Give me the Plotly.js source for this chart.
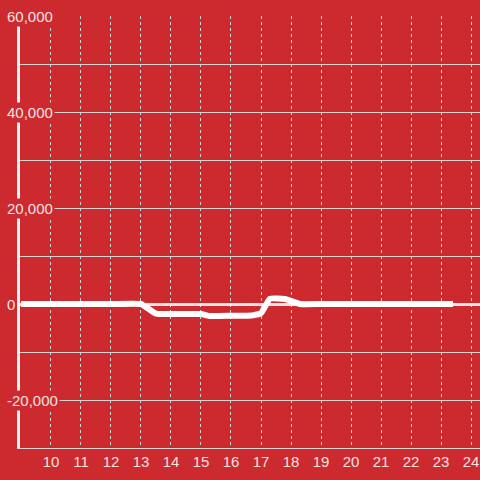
<!DOCTYPE html>
<html>
<head>
<meta charset="utf-8">
<script src="https://cdn.plot.ly/plotly-3.0.1.min.js"></script>
<style>html,body{margin:0;padding:0;background:#CC2A2E;}#chart{width:480px;height:480px;}</style>
</head>
<body>
<div id="chart"></div>
<script>
// Data
const hours  = [9, 10, 11, 12, 13, 13.5, 14, 15, 15.3, 16, 16.7, 17, 17.3, 17.8, 18.3, 19, 20, 21, 22, 23, 23.4];
const values = [0, 0, 0, 0, 0, -2000, -2100, -2100, -2500, -2450, -2400, -1900, 1100, 1050, 0, 0, 0, 0, 0, 0, 0];
const xTickVals = [10, 11, 12, 13, 14, 15, 16, 17, 18, 19, 20, 21, 22, 23, 24];
const yLabelVals = [-20000, 0, 20000, 40000, 60000];
const yLabelText = ['-20,000', '0', '20,000', '40,000', '60,000'];

const bg = '#CC2A2E';
const textColor = '#F3E1E1';
const gridColor = '#D9D4D4';
const font = {family: '"Liberation Sans", Arial, sans-serif', size: 15, color: textColor};

const trace = {
  x: hours, y: values, type: 'scatter', mode: 'lines',
  line: {color: '#FFFFFF', width: 6, shape: 'spline', smoothing: 0.35},
  hoverinfo: 'skip'
};

const annotations = yLabelVals.map((v, i) => ({
  xref: 'paper', yref: 'y', x: 0, y: v,
  xanchor: 'left', yanchor: 'middle', xshift: -15,
  text: yLabelText[i], showarrow: false,
  font: font, bgcolor: bg, borderpad: 1
}));

const layout = {
  width: 480, height: 480,
  paper_bgcolor: bg, plot_bgcolor: bg,
  margin: {l: 20, r: 0, t: 16, b: 32},
  showlegend: false,
  font: font,
  xaxis: {
    range: [8.967, 24.3],
    tickvals: xTickVals,
    ticktext: xTickVals.map(String),
    showgrid: true, gridcolor: gridColor, gridwidth: 1, griddash: 'dot',
    zeroline: false,
    showline: true, linecolor: gridColor, linewidth: 1,
    ticks: '', tickfont: font, ticklabelstandoff: 0
  },
  yaxis: {
    range: [-30000, 60000],
    dtick: 10000, tick0: 0,
    showgrid: true, gridcolor: gridColor, gridwidth: 1,
    zeroline: true, zerolinecolor: '#F2E4E4', zerolinewidth: 3,
    showline: true, linecolor: '#F4EEEE', linewidth: 3,
    showticklabels: false, ticks: ''
  },
  annotations: annotations
};

Plotly.newPlot('chart', [trace], layout, {displayModeBar: false, staticPlot: true});
</script>
</body>
</html>
